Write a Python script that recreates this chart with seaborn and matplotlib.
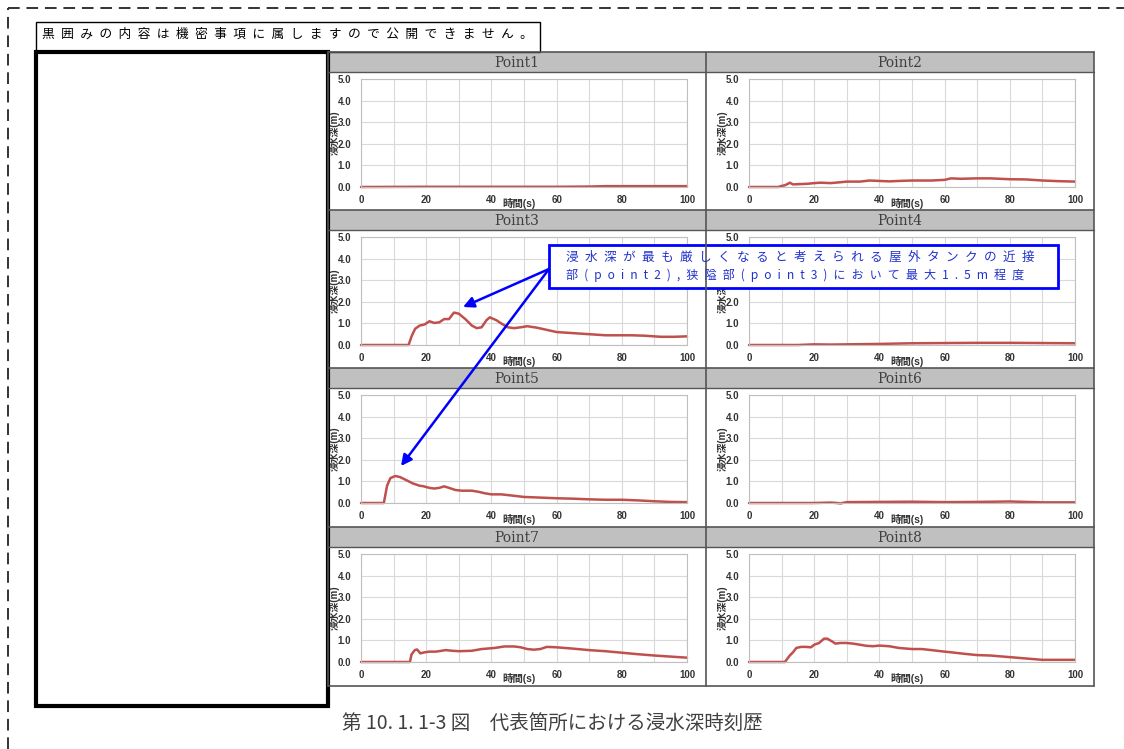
import numpy as np
import pandas as pd
import seaborn as sns

import matplotlib
matplotlib.use('Agg')
import matplotlib.pyplot as plt
from matplotlib.patches import Rectangle

# depth (m) vs time (s)
time_p1 = [0, 20, 40, 60, 70, 75, 80, 90, 100]
depth_p1 = [0.0, 0.01, 0.01, 0.01, 0.02, 0.04, 0.04, 0.04, 0.04]

time_p2 = [0, 9, 10, 11, 12, 12.5, 13.5, 15, 18, 20, 22, 25, 28, 30, 32, 34, 37, 40, 43, 46,
           50, 56, 60, 62, 65, 70, 74, 80, 85, 90, 95, 100]
depth_p2 = [0, 0, 0.05, 0.08, 0.15, 0.2, 0.12, 0.13, 0.15, 0.18, 0.2, 0.18, 0.22, 0.25, 0.25, 0.25,
            0.3, 0.28, 0.26, 0.28, 0.3, 0.3, 0.33, 0.4, 0.38, 0.4, 0.4, 0.36, 0.35, 0.3, 0.27, 0.25]

time_p3 = [0, 14.6, 15.5, 16.6, 18, 19.5, 21, 22.5, 24, 25.5, 27, 28.5, 30, 32, 34, 35.5, 37, 38.5,
           39.5, 41.5, 43, 45, 47, 49, 51, 54, 57, 60, 65, 70, 75, 80, 83, 87, 92, 96, 100]
depth_p3 = [0, 0, 0.4, 0.75, 0.9, 0.95, 1.1, 1.02, 1.05, 1.2, 1.2, 1.5, 1.45, 1.2, 0.9, 0.78, 0.82,
            1.15, 1.28, 1.15, 1.0, 0.82, 0.78, 0.82, 0.87, 0.8, 0.7, 0.6, 0.55, 0.5, 0.45, 0.45,
            0.45, 0.43, 0.38, 0.38, 0.4]

time_p4 = [0, 15, 20, 25, 30, 40, 50, 60, 70, 80, 90, 100]
depth_p4 = [0, 0, 0.03, 0.02, 0.03, 0.05, 0.08, 0.09, 0.1, 0.1, 0.09, 0.08]

time_p5 = [0, 7, 7.5, 8, 9, 10.5, 12, 14, 16, 18, 19, 21, 22.5, 24, 25.5, 27, 29, 31, 34, 36, 38,
           40, 43, 46, 50, 55, 60, 65, 70, 75, 80, 85, 90, 95, 100]
depth_p5 = [0, 0, 0.4, 0.8, 1.15, 1.25, 1.2, 1.05, 0.9, 0.8, 0.78, 0.7, 0.67, 0.7, 0.77, 0.7, 0.6,
            0.57, 0.57, 0.52, 0.45, 0.4, 0.4, 0.35, 0.28, 0.25, 0.22, 0.2, 0.17, 0.15, 0.15, 0.12,
            0.08, 0.05, 0.04]

time_p6 = [0, 20, 25, 27, 28, 30, 40, 50, 60, 70, 75, 80, 85, 90, 100]
depth_p6 = [0.0, 0.0, 0.02, 0.0, -0.02, 0.04, 0.05, 0.06, 0.04, 0.05, 0.06, 0.07, 0.05, 0.03, 0.03]

time_p7 = [0, 15, 15.5, 16.5, 17.2, 18.2, 19.5, 21, 23, 26, 28, 30, 34, 37, 41, 44, 47, 49, 51,
           53, 55, 57, 60, 65, 70, 75, 80, 85, 90, 95, 100]
depth_p7 = [0, 0, 0.35, 0.55, 0.58, 0.4, 0.45, 0.48, 0.48, 0.55, 0.52, 0.5, 0.52, 0.6, 0.65, 0.72,
            0.72, 0.68, 0.6, 0.57, 0.6, 0.7, 0.68, 0.62, 0.55, 0.5, 0.43, 0.36, 0.3, 0.25, 0.2]

time_p8 = [0, 11, 12.5, 13.5, 14.5, 16, 17.5, 19, 20, 21.5, 23, 24, 25.5, 26.5, 28, 30, 32, 34,
           36, 38, 40, 43, 46, 50, 53, 56, 60, 62, 66, 70, 74, 78, 82, 86, 90, 100]
depth_p8 = [0, 0, 0.3, 0.45, 0.65, 0.7, 0.7, 0.68, 0.8, 0.88, 1.08, 1.08, 0.95, 0.85, 0.88, 0.88,
            0.85, 0.8, 0.75, 0.73, 0.76, 0.73, 0.65, 0.6, 0.6, 0.55, 0.48, 0.45, 0.38, 0.32, 0.3,
            0.25, 0.2, 0.15, 0.1, 0.1]

POINTS = ["Point1", "Point2", "Point3", "Point4", "Point5", "Point6", "Point7", "Point8"]
SERIES = [(time_p1, depth_p1), (time_p2, depth_p2), (time_p3, depth_p3), (time_p4, depth_p4),
          (time_p5, depth_p5), (time_p6, depth_p6), (time_p7, depth_p7), (time_p8, depth_p8)]

X_TICKS = list(range(0, 101, 10))
X_LABELS = [str(v) if v % 20 == 0 else "" for v in X_TICKS]
Y_TICKS = [0.0, 1.0, 2.0, 3.0, 4.0, 5.0]
Y_LABELS = ["%.1f" % v for v in Y_TICKS]

SP = "\u2002"  # en space, for the letter-spaced lines
HEADER = "黒囲みの内容は機密事項に属しますので公開できません。"
NOTE_1 = "浸水深が最も厳しくなると考えられる屋外タンクの近接"
NOTE_2 = "部(point2),狭隘部(point3)において最大1.5m程度"
CAPTION = "第 10. 1. 1-3 図\u3000代表箇所における浸水深時刻歴"

# layout in pixels
W, H = 1124, 749
COL_X = [328, 706, 1094]
ROW_Y = [52, 210, 368, 527, 686]
BAR_H = 20
PLOT_X = [(361, 687), (749, 1075)]
PLOT_TOP, PLOT_BOT = 27, 135
LINE_COLOR = "#c0504d"
JP = ["Noto Sans CJK JP", "DejaVu Sans"]

sns.set_style("white")
plt.rcParams['font.family'] = ["Liberation Sans", "Noto Sans CJK JP", "DejaVu Sans"]

fig = plt.figure(figsize=(W / 100, H / 100), dpi=100)


def fig_rect(x0, y0, x1, y1):
    return [x0 / W, 1 - y1 / H, (x1 - x0) / W, (y1 - y0) / H]


for i, name in enumerate(POINTS):
    row, col = divmod(i, 2)
    x0, x1 = PLOT_X[col]
    top = ROW_Y[row]
    ax = fig.add_axes(fig_rect(x0, top + PLOT_TOP, x1, top + PLOT_BOT))
    t, d = SERIES[i]
    df = pd.DataFrame({"time": t, "depth": d})
    sns.lineplot(data=df, x="time", y="depth", ax=ax, color=LINE_COLOR, linewidth=1.8)
    for line in ax.lines:
        line.set_clip_on(False)
    ax.set_xlim(0, 100)
    ax.set_ylim(0, 5)
    ax.set_xticks(X_TICKS)
    ax.set_xticklabels(X_LABELS)
    ax.set_yticks(Y_TICKS)
    ax.set_yticklabels(Y_LABELS)
    ax.grid(True, color="#d9d9d9", linewidth=0.8)
    ax.tick_params(axis="x", length=0, pad=6, labelsize=7, labelcolor="#333333")
    ax.tick_params(axis="y", length=4, color="#bfbfbf", width=0.8, pad=3, labelsize=7,
                   labelcolor="#333333")
    for lab in ax.get_xticklabels() + ax.get_yticklabels():
        lab.set_fontweight("bold")
    for s in ax.spines.values():
        s.set_color("#bfbfbf")
        s.set_linewidth(0.8)
    ax.set_xlabel("時間(s)", fontsize=7.5, fontweight="bold", color="#333333")
    ax.xaxis.set_label_coords(0.485, -0.10)
    ax.set_ylabel("浸水深(m)", fontsize=7, fontweight="bold", color="#333333")
    ax.yaxis.set_label_coords(-0.065, 0.5)

# overlay for the page decoration
ov = fig.add_axes([0, 0, 1, 1])
ov.set_xlim(0, W)
ov.set_ylim(H, 0)
ov.axis("off")
ov.set_zorder(10)

ov.plot([8, 8], [H, 8], color="#333333", lw=1.4, dashes=(6, 3.5), clip_on=False)
ov.plot([8, W], [8, 8], color="#333333", lw=1.4, dashes=(6, 3.5), clip_on=False)

# title bars and table grid
for top in ROW_Y[:-1]:
    ov.add_patch(Rectangle((COL_X[0], top), COL_X[2] - COL_X[0], BAR_H,
                           facecolor="#c0c0c0", edgecolor="none"))
    ov.plot([COL_X[0], COL_X[2]], [top + BAR_H] * 2, color="#555555", lw=1)
for y in ROW_Y:
    ov.plot([COL_X[0], COL_X[2]], [y, y], color="#555555", lw=1.2)
for x in COL_X:
    ov.plot([x, x], [ROW_Y[0], ROW_Y[-1]], color="#555555", lw=1.2)
for i, name in enumerate(POINTS):
    row, col = divmod(i, 2)
    ov.text((COL_X[col] + COL_X[col + 1]) / 2, ROW_Y[row] + BAR_H / 2 + 1, name,
            family="DejaVu Serif", fontsize=10, color="#404040", ha="center", va="center")

# masked block
ov.add_patch(Rectangle((36, 22), 504, 30, facecolor="white", edgecolor="black", lw=1))
ov.text(42, 34, SP.join(HEADER), family=JP, fontsize=9.2, color="black", va="center")
ov.add_patch(Rectangle((36, 52), 292, 654, fill=False, edgecolor="black", lw=3))

# note and arrows
ov.add_patch(Rectangle((549, 245), 509, 43, facecolor="white", edgecolor="#0000ff", lw=2))
ov.text(566, 257, SP.join(NOTE_1), family=JP, fontsize=9.1, color="#2233cc", va="center")
ov.text(566, 275, SP.join(NOTE_2), family=JP, fontsize=8.7, color="#2233cc", va="center")
for tip in [(463, 307), (401, 466)]:
    ov.annotate("", xy=tip, xytext=(549, 269),
                arrowprops=dict(arrowstyle="-|>", color="#0000ff", lw=1.8, mutation_scale=16,
                                shrinkA=0, shrinkB=0))

ov.text(342, 723, CAPTION, family=JP, fontsize=14, color="#404040", va="center")

fig.savefig("out.png", dpi=100)
plt.close()
